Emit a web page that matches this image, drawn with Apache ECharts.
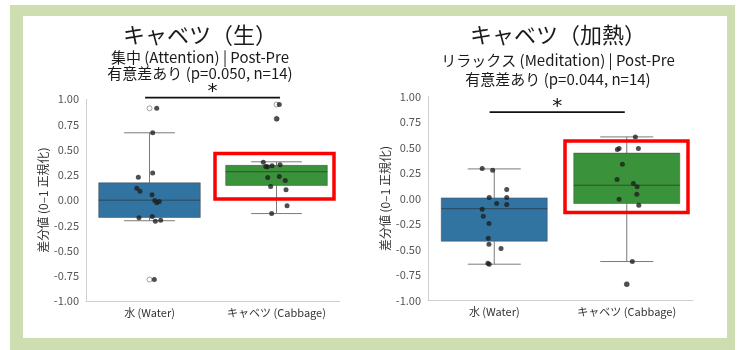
<!DOCTYPE html>
<html>
<head>
<meta charset="utf-8">
<script src="https://cdn.jsdelivr.net/npm/echarts@6/dist/echarts.min.js"></script>
<style>
  html, body { margin: 0; padding: 0; background: #ffffff; }
  #chart { width: 746px; height: 350px; }
</style>
</head>
<body>
<div id="chart"></div>
<script>
// Category labels shared by both panels
const categories = ['水 (Water)', 'キャベツ (Cabbage)'];

// Panel 1: raw cabbage, Attention (Post-Pre difference)
// box stats: [lower whisker, Q1, median, Q3, upper whisker]
const rawWaterBox = [-0.204, -0.172, 0.0, 0.172, 0.668];
const rawCabbageBox = [-0.133, 0.146, 0.282, 0.345, 0.380];
const rawWaterPts = [0.911, 0.668, 0.270, 0.228, 0.119, 0.089, 0.053, -0.003, -0.026, -0.013, -0.174, -0.163, -0.208, -0.200, -0.787];
const rawWaterJit = [0.057, 0.025, 0.025, -0.088, -0.100, -0.075, 0.020, 0.041, 0.057, 0.077, -0.083, 0.022, 0.046, 0.088, 0.038];
const rawCabbagePts = [0.948, 0.806, 0.376, 0.334, 0.330, 0.340, 0.350, 0.225, 0.235, 0.195, 0.136, 0.103, -0.055, -0.132];
const rawCabbageJit = [0.022, 0.002, -0.104, -0.085, -0.072, -0.035, 0.028, -0.069, 0.022, 0.069, -0.046, 0.075, 0.083, -0.038];
const rawWaterFliers = [0.911, -0.787];
const rawCabbageFliers = [0.948, 0.806];

// Panel 2: heated cabbage, Meditation (Post-Pre difference)
const heatWaterBox = [-0.644, -0.419, -0.100, 0.006, 0.290];
const heatCabbageBox = [-0.618, -0.049, 0.130, 0.445, 0.604];
const heatWaterPts = [0.294, 0.277, 0.088, 0.010, 0.010, -0.049, -0.059, -0.105, -0.174, -0.245, -0.389, -0.448, -0.490, -0.634, -0.644];
const heatWaterJit = [-0.091, -0.012, 0.094, -0.038, 0.094, 0.018, 0.094, -0.091, -0.083, -0.040, -0.045, -0.040, 0.051, -0.048, -0.038];
const heatCabbagePts = [0.604, 0.480, 0.490, 0.490, 0.336, 0.186, 0.147, 0.114, 0.042, -0.007, -0.066, -0.618, -0.840];
const heatCabbageJit = [0.065, -0.071, -0.058, 0.088, -0.033, -0.073, 0.050, 0.078, 0.076, -0.058, 0.091, 0.042, 0.000];
const heatWaterFliers = [];
const heatCabbageFliers = [-0.840];

// Significance bracket per panel: [from category, to category, bar level, star level]
const rawSig = [-0.035, 1.028, 1.017, 1.076];
const heatSig = [-0.035, 0.985, 0.846, 0.895];

// Y axis range
const yMin = -1, yMax = 1, yStep = 0.25;

const FONT = '"Noto Sans CJK JP", "Noto Sans", sans-serif';
const BLUE = '#3274a1';
const GREEN = '#3a923a';

const chart = echarts.init(document.getElementById('chart'), null, { renderer: 'canvas' });

function boxRender(params, api) {
  const x = api.value(0);
  const lo = api.coord([x, api.value(1)]);
  const q1 = api.coord([x, api.value(2)]);
  const md = api.coord([x, api.value(3)]);
  const q3 = api.coord([x, api.value(4)]);
  const hi = api.coord([x, api.value(5)]);
  const w = api.size([0.8, 0])[0];
  const cx = lo[0];
  const cap = w / 4;
  const fill = api.value(6) === 0 ? BLUE : GREEN;
  const whisk = { stroke: '#7a7a7a', lineWidth: 1 };
  return {
    type: 'group',
    children: [
      { type: 'line', shape: { x1: cx, y1: q3[1], x2: cx, y2: hi[1] }, style: whisk },
      { type: 'line', shape: { x1: cx, y1: q1[1], x2: cx, y2: lo[1] }, style: whisk },
      { type: 'line', shape: { x1: cx - cap, y1: hi[1], x2: cx + cap, y2: hi[1] }, style: whisk },
      { type: 'line', shape: { x1: cx - cap, y1: lo[1], x2: cx + cap, y2: lo[1] }, style: whisk },
      { type: 'rect', shape: { x: cx - w / 2, y: q3[1], width: w, height: q1[1] - q3[1] },
        style: { fill: fill, stroke: 'rgba(60,60,60,0.45)', lineWidth: 1 } },
      { type: 'line', shape: { x1: cx - w / 2, y1: md[1], x2: cx + w / 2, y2: md[1] },
        style: { stroke: 'rgba(40,40,40,0.6)', lineWidth: 1 } }
    ]
  };
}

function sigRender(params, api) {
  const a = api.coord([api.value(0), api.value(2)]);
  const b = api.coord([api.value(1), api.value(2)]);
  const s = api.coord([(api.value(0) + api.value(1)) / 2, api.value(3)]);
  return {
    type: 'group',
    children: [
      { type: 'line', shape: { x1: a[0], y1: a[1], x2: b[0], y2: b[1] },
        style: { stroke: '#111', lineWidth: 1.8 } },
      { type: 'text', x: s[0], y: s[1],
        style: { text: '*', fill: '#111', font: '20px "DejaVu Sans"', align: 'center', verticalAlign: 'middle' } }
    ]
  };
}

function boxData(waterBox, cabbageBox) {
  return [[0].concat(waterBox, [0]), [1].concat(cabbageBox, [1])];
}
function ptsData(vals, jit, cat) {
  return vals.map((v, i) => [cat + jit[i], v]);
}
function flierData(vals, cat) {
  return vals.map(v => [cat, v]);
}

function panelAxes(gridIndex) {
  return {
    xCat: {
      type: 'category', gridIndex: gridIndex, data: categories,
      axisLine: { show: true, onZero: false, lineStyle: { color: '#d0d0d0', width: 1 } },
      axisTick: { show: false },
      axisLabel: { color: '#333', fontSize: 11, fontFamily: FONT, margin: 6, interval: 0 },
      splitLine: { show: false }
    },
    xVal: {
      type: 'value', gridIndex: gridIndex, min: -0.5, max: 1.5, show: false,
      axisLine: { show: false, onZero: false }, splitLine: { show: false }
    },
    y: {
      type: 'value', gridIndex: gridIndex, min: yMin, max: yMax, interval: yStep,
      name: '差分値 (0–1 正規化)', nameLocation: 'middle', nameRotate: 90, nameGap: 37,
      nameTextStyle: { color: '#333', fontSize: 12, fontFamily: FONT },
      axisLine: { show: true, onZero: false, lineStyle: { color: '#d0d0d0', width: 1 } },
      axisTick: { show: false },
      splitLine: { show: false },
      axisLabel: { color: '#555', fontSize: 11, fontFamily: FONT, margin: 7,
        formatter: v => v.toFixed(2) }
    }
  };
}

const p0 = panelAxes(0), p1 = panelAxes(1);

function panelSeries(xValIndex, yIndex, box, wPts, wJit, cPts, cJit, wFl, cFl, sig) {
  return [
    { type: 'custom', xAxisIndex: xValIndex, yAxisIndex: yIndex, renderItem: boxRender,
      data: box, z: 2, silent: true },
    { type: 'scatter', xAxisIndex: xValIndex, yAxisIndex: yIndex,
      data: flierData(wFl, 0).concat(flierData(cFl, 1)),
      symbol: 'circle', symbolSize: 5,
      itemStyle: { color: '#fff', borderColor: '#8a8a8a', borderWidth: 1 }, z: 3, silent: true },
    { type: 'scatter', xAxisIndex: xValIndex, yAxisIndex: yIndex,
      data: ptsData(wPts, wJit, 0).concat(ptsData(cPts, cJit, 1)),
      symbol: 'circle', symbolSize: 5,
      itemStyle: { color: '#1e1e1e', opacity: 0.78 }, z: 4, silent: true },
    { type: 'custom', xAxisIndex: xValIndex, yAxisIndex: yIndex, renderItem: sigRender,
      data: [sig], clip: false, z: 5, silent: true }
  ];
}

function text(str, x, y, size) {
  return { type: 'text', x: x, y: y, z: 10,
    style: { text: str, fill: '#1a1a1a', font: size + 'px ' + FONT, align: 'center', verticalAlign: 'middle' } };
}

const option = {
  animation: false,
  backgroundColor: '#ffffff',
  grid: [
    { left: 86, top: 99.3, width: 254, height: 201.7 },
    { left: 428, top: 96.5, width: 265, height: 204 }
  ],
  xAxis: [p0.xCat, p0.xVal, p1.xCat, p1.xVal],
  yAxis: [p0.y, p1.y],
  series: [].concat(
    panelSeries(1, 0, boxData(rawWaterBox, rawCabbageBox), rawWaterPts, rawWaterJit,
      rawCabbagePts, rawCabbageJit, rawWaterFliers, rawCabbageFliers, rawSig),
    panelSeries(3, 1, boxData(heatWaterBox, heatCabbageBox), heatWaterPts, heatWaterJit,
      heatCabbagePts, heatCabbageJit, heatWaterFliers, heatCabbageFliers, heatSig)
  ),
  graphic: [
    // page frame
    { type: 'rect', z: -10, silent: true, shape: { x: 10, y: 5, width: 725, height: 345 },
      style: { fill: '#cfdeb1' } },
    { type: 'rect', z: -9, silent: true, shape: { x: 23, y: 16, width: 704, height: 322 },
      style: { fill: '#ffffff' } },
    // panel titles
    text('キャベツ（生）', 200, 35, 22),
    text('集中 (Attention) | Post-Pre', 200, 57, 15),
    text('有意差あり (p=0.050, n=14)', 200, 73, 15),
    text('キャベツ（加熱）', 558, 35, 22),
    text('リラックス (Meditation) | Post-Pre', 558, 60, 15),
    text('有意差あり (p=0.044, n=14)', 558, 79, 15),
    // highlight frames around the cabbage boxes
    { type: 'rect', z: 20, silent: true, shape: { x: 215, y: 153.5, width: 119, height: 45.5 },
      style: { fill: 'none', stroke: '#ff0000', lineWidth: 3.5 } },
    { type: 'rect', z: 20, silent: true, shape: { x: 565, y: 141, width: 123, height: 71.5 },
      style: { fill: 'none', stroke: '#ff0000', lineWidth: 3.5 } }
  ]
};

chart.setOption(option);
</script>
</body>
</html>
